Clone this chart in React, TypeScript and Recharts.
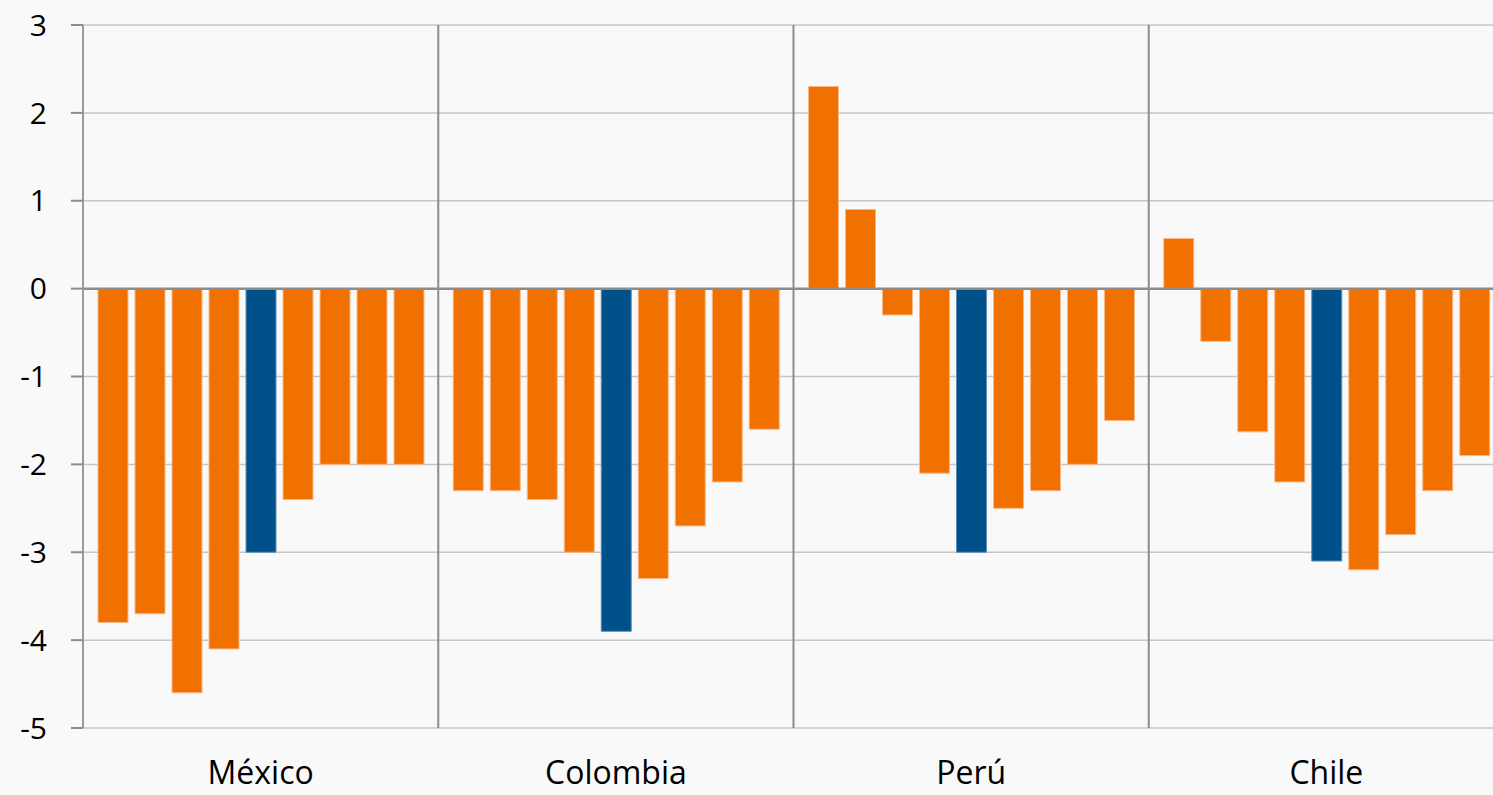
import { BarChart, Bar, XAxis, YAxis, CartesianGrid, ReferenceLine } from 'recharts';

const COUNTRIES = ['México', 'Colombia', 'Perú', 'Chile'];
const SERIES_KEYS = ['s1', 's2', 's3', 's4', 's5', 's6', 's7', 's8', 's9'];
const HIGHLIGHT_KEY = 's5';

const MEXICO = [-3.8, -3.7, -4.6, -4.1, -3.0, -2.4, -2.0, -2.0, -2.0];
const COLOMBIA = [-2.3, -2.3, -2.4, -3.0, -3.9, -3.3, -2.7, -2.2, -1.6];
const PERU = [2.3, 0.9, -0.3, -2.1, -3.0, -2.5, -2.3, -2.0, -1.5];
const CHILE = [0.57, -0.6, -1.63, -2.2, -3.1, -3.2, -2.8, -2.3, -1.9];

const Y_TICKS = [-5, -4, -3, -2, -1, 0, 1, 2, 3];

const ORANGE = '#f07000';
const ORANGE_EDGE = '#f9b88a';
const BLUE = '#00508a';
const BLUE_EDGE = '#5f8fb6';
const GRID = '#c6c6c6';
const AXIS = '#8c8c8c';
const BG = '#f9f9f9';
const FONT = '"Open Sans", sans-serif';

const rows = [MEXICO, COLOMBIA, PERU, CHILE].map((vals, i) => {
  const row: Record<string, string | number> = { name: COUNTRIES[i] };
  SERIES_KEYS.forEach((k, j) => {
    row[k] = vals[j];
  });
  return row;
});

// separators sit on the boundaries between country bands
function separatorXs(args: any): number[] {
  const { xAxis, offset } = args;
  if (xAxis && typeof xAxis.scale === 'function') {
    return COUNTRIES.slice(1).map((c) => xAxis.scale(c));
  }
  const step = offset.width / COUNTRIES.length;
  return COUNTRIES.slice(1).map((_, i) => offset.left + step * (i + 1));
}

export default function App() {
  return (
    <div
      style={{
        position: 'fixed',
        left: 0,
        top: 0,
        width: 1493,
        height: 795,
        overflow: 'hidden',
        background: BG,
      }}
    >
      <BarChart
        width={1510}
        height={795}
        data={rows}
        margin={{ top: 25, right: 6, bottom: 0, left: 0 }}
        barSize={30}
        barGap={7}
      >
        <CartesianGrid horizontal vertical={false} stroke={GRID} strokeWidth={1.5} />
        <CartesianGrid
          horizontal={false}
          vertical
          stroke={AXIS}
          strokeWidth={2}
          verticalCoordinatesGenerator={separatorXs}
        />
        <XAxis
          dataKey="name"
          axisLine={false}
          tickLine={false}
          tickSize={0}
          tickMargin={33}
          height={67}
          interval={0}
          tick={{ fontSize: 32, fill: '#000', fontFamily: FONT }}
        />
        <YAxis
          width={83}
          domain={[-5, 3]}
          ticks={Y_TICKS}
          interval={0}
          axisLine={{ stroke: '#9a9a9a', strokeWidth: 2 }}
          tickLine={{ stroke: AXIS, strokeWidth: 2 }}
          tickSize={12}
          tickMargin={24}
          tick={{ fontSize: 30, fill: '#000', fontFamily: FONT }}
        />
        {SERIES_KEYS.map((k) => (
          <Bar
            key={k}
            dataKey={k}
            fill={k === HIGHLIGHT_KEY ? BLUE : ORANGE}
            stroke={k === HIGHLIGHT_KEY ? BLUE_EDGE : ORANGE_EDGE}
            strokeWidth={1}
            isAnimationActive={false}
          />
        ))}
        <ReferenceLine y={0} stroke={AXIS} strokeWidth={2.5} />
      </BarChart>
    </div>
  );
}
